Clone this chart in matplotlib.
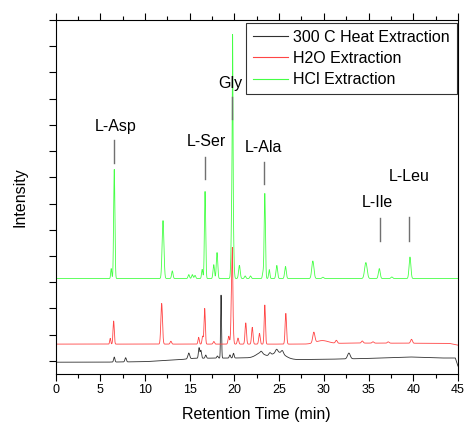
import numpy as np
import matplotlib
matplotlib.use("Agg")
import matplotlib.pyplot as plt
from matplotlib.ticker import MultipleLocator

plt.rcParams['font.family'] = ['Liberation Sans', 'DejaVu Sans']

# ---------------- data ----------------
series_names = ["300 C Heat Extraction", "H2O Extraction", "HCl Extraction"]

# HCl extraction (green) peak table: retention time (min), height, sigma (min)
hcl_times = [6.23, 6.57, 12.02, 13.06, 14.9, 15.3, 15.6, 16.4, 16.72, 17.69, 18.06,
             19.80, 19.78, 20.56, 21.2, 21.8, 23.2, 23.4, 23.9, 24.74, 25.71,
             28.77, 29.9, 34.7, 36.2, 37.6, 39.63]
hcl_heights = [0.38, 4.16, 2.21, 0.29, 0.15, 0.15, 0.12, 0.35, 3.32, 0.53, 0.99,
               5.0, 4.4, 0.5, 0.1, 0.1, 0.23, 3.24, 0.34, 0.5, 0.46,
               0.67, 0.05, 0.61, 0.38, 0.06, 0.82]
hcl_widths = [0.06, 0.07, 0.1, 0.08, 0.08, 0.08, 0.08, 0.07, 0.07, 0.08, 0.08,
              0.035, 0.1, 0.09, 0.08, 0.08, 0.07, 0.07, 0.07, 0.09, 0.09,
              0.12, 0.1, 0.14, 0.1, 0.1, 0.1]
hcl_base_t = [0, 45]
hcl_base_v = [3.14, 3.14]

# H2O extraction (red)
h2o_times = [6.12, 6.5, 11.87, 12.9, 16.0, 16.45, 16.68, 17.7, 19.37, 19.74, 19.78,
             20.4, 21.27, 22.0, 22.8, 23.4, 25.75, 28.88, 29.8, 31.4, 34.3, 35.5,
             37.2, 39.8]
h2o_heights = [0.22, 0.88, 1.55, 0.11, 0.26, 0.3, 1.36, 0.1, 0.3, 3.0, 0.9,
               0.23, 0.81, 0.64, 0.41, 1.49, 1.17, 0.4, 0.12, 0.11, 0.08, 0.05,
               0.05, 0.15]
h2o_widths = [0.06, 0.07, 0.09, 0.08, 0.07, 0.07, 0.07, 0.08, 0.08, 0.09, 0.03,
              0.08, 0.08, 0.08, 0.08, 0.07, 0.08, 0.12, 0.7, 0.1, 0.1, 0.1,
              0.1, 0.1]
h2o_base_t = [0, 28, 33, 44, 45]
h2o_base_v = [0.64, 0.64, 0.68, 0.67, 0.6]

# 300 C heat extraction (black)
heat_times = [6.57, 7.84, 14.9, 16.05, 16.25, 16.8, 18.1, 18.51, 19.5, 19.9,
              22.9, 24.9, 23.0, 23.97, 24.72, 25.36, 32.8]
heat_heights = [0.19, 0.16, 0.22, 0.4, 0.3, 0.12, 0.08, 2.4, 0.12, 0.18,
                0.18, 0.25, 0.08, 0.1, 0.12, 0.12, 0.22]
heat_widths = [0.07, 0.08, 0.1, 0.07, 0.07, 0.07, 0.07, 0.05, 0.07, 0.07,
               0.5, 0.7, 0.12, 0.12, 0.12, 0.12, 0.15]
heat_base_t = [0, 5, 10, 14, 15.5, 20, 22, 27, 30, 34.6, 39.6, 43, 44.7, 45]
heat_base_v = [-0.05, -0.05, -0.03, 0.05, 0.1, 0.11, 0.12, 0.05, 0.06, 0.09, 0.15, 0.11, 0.11, -0.2]

# Peak labels
peak_labels = ["L-Asp", "L-Ser", "Gly", "L-Ala", "L-Ile", "L-Leu"]
label_line_x = [6.57, 16.72, 19.78, 23.3, 36.24, 39.56]
label_line_y0 = [7.54, 6.92, 9.21, 6.73, 4.58, 4.58]
label_line_y1 = [8.42, 7.78, 10.07, 7.59, 5.45, 5.47]
label_text_x = [6.69, 16.87, 19.56, 23.3, 35.98, 39.52]
label_text_y = [8.95, 8.35, 10.59, 8.14, 6.03, 7.04]

x_ticks = [0, 5, 10, 15, 20, 25, 30, 35, 40, 45]


def trace(t, times, heights, widths, base_t, base_v):
    y = np.interp(t, base_t, base_v)
    for c, h, s in zip(times, heights, widths):
        y = y + h * np.exp(-0.5 * ((t - c) / s) ** 2)
    return y


t = np.linspace(0, 45, 9001)
y_heat = trace(t, heat_times, heat_heights, heat_widths, heat_base_t, heat_base_v)
y_h2o = trace(t, h2o_times, h2o_heights, h2o_widths, h2o_base_t, h2o_base_v)
y_hcl = trace(t, hcl_times, hcl_heights, hcl_widths, hcl_base_t, hcl_base_v)

fig = plt.figure(figsize=(4.65, 4.26), dpi=100)
ax = fig.add_axes([55.5 / 465, 1 - 374 / 426, (458 - 55.5) / 465, (374 - 20) / 426])

ax.plot(t, y_heat, color='#303030', lw=0.6, label=series_names[0])
ax.plot(t, y_h2o, color='#ff4545', lw=0.6, label=series_names[1])
ax.plot(t, y_hcl, color='#45ff45', lw=0.6, label=series_names[2])

for name, lx, ly0, ly1, tx, ty in zip(peak_labels, label_line_x, label_line_y0,
                                      label_line_y1, label_text_x, label_text_y):
    ax.plot([lx, lx], [ly0, ly1], color='#707070', lw=1.0)
    ax.text(tx, ty, name, ha='center', va='center', fontsize=11.5)

ax.set_xlim(0, 45)
ax.set_ylim(-0.5, 13)
ax.set_xticks(x_ticks)
ax.xaxis.set_minor_locator(MultipleLocator(2.5))
ax.set_yticks(np.arange(0, 14))
ax.set_yticklabels([])
ax.tick_params(axis='x', which='major', direction='out', length=5, width=0.8,
               labelsize=9, top=True, bottom=True, pad=2)
ax.tick_params(axis='x', which='minor', direction='out', length=3, width=0.8,
               top=True, bottom=True)
ax.tick_params(axis='y', which='major', direction='out', length=5, width=0.8,
               left=True, right=False)
for sp in ax.spines.values():
    sp.set_linewidth(0.8)

ax.set_xlabel("Retention Time (min)", fontsize=11.5, labelpad=8)
ax.set_ylabel("Intensity", fontsize=11.5, labelpad=12)

leg = ax.legend(loc='upper right', bbox_to_anchor=(456.5 / 465, 1 - 23.3 / 426),
                bbox_transform=fig.transFigure, fontsize=11.5, frameon=True,
                fancybox=False, edgecolor='black', handlelength=2.2,
                borderaxespad=0, borderpad=0.4, labelspacing=0.395,
                handletextpad=0.35)
leg.get_frame().set_linewidth(0.8)
for line in leg.get_lines():
    line.set_linewidth(0.8)

fig.savefig("out.png", dpi=100)
